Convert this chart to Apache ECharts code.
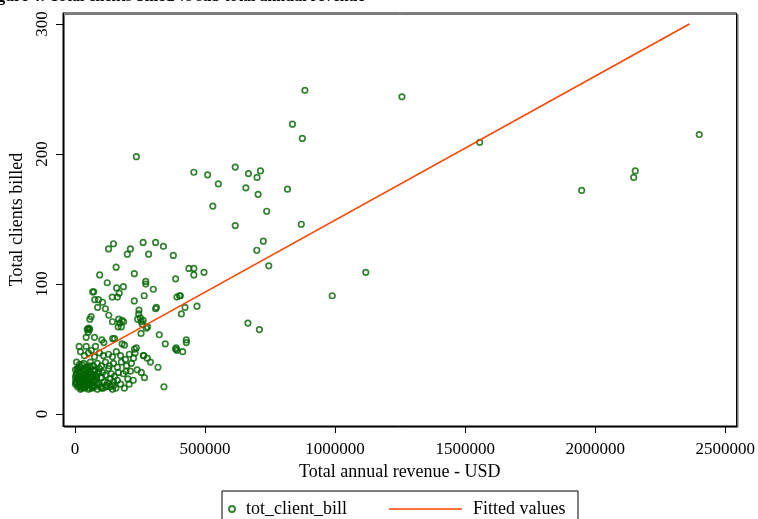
<!DOCTYPE html>
<html>
<head>
<meta charset="utf-8">
<script src="https://cdn.jsdelivr.net/npm/echarts@6/dist/echarts.min.js"></script>
<style>
html,body{margin:0;padding:0;background:#fff;}
#main{width:758px;height:519px;}
</style>
</head>
<body>
<div id="main"></div>
<script>
// revenue (USD) and clients billed
var revenue = [
  236000,884000,1257000,836000,874000,1556000,2400000,1948000,2154000,2148000,
  457000,510000,616000,667000,713000,700000,551000,657000,704000,817000,
  530000,737000,616000,870000,724000,699000,745000,1118000,438000,457000,
  457000,496000,989000,405000,423000,469000,409000,665000,709000,428000,
  392000,402000,
  129000,148000,213000,201000,262000,310000,340000,283000,378000,158000,
  95000,228000,124000,387000,272000,272000,186000,160000,301000,68000,
  72000,143000,170000,163000,266000,76000,90000,228000,106000,87000,
  117000,310000,246000,62000,57000,130000,245000,251000,168000,181000,
  144000,262000,255000,172000,178000,166000,279000,274000,47000,54000,
  254000,324000,75000,43000,145000,152000,103000,111000,181000,190000,
  229000,347000,389000,392000,387000,428000,414000,264000,16000,43000,
  63000,79000,319000,342000,239000,255000,267000,203000,208000,196000,
  187000,241000,259000,51000,51000,56000,236000,231000,263000,122000,
  157000,313000,
  21000,36000,52000,75000,94000,109000,129000,144000,159000,175000,
  194000,209000,225000,278000,290000,
  6000,17000,33000,44000,59000,71000,86000,102000,117000,132000,
  148000,163000,178000,198000,217000,167000,
  2000,6000,13000,21000,29000,36000,44000,52000,59000,67000,
  79000,86000,94000,106000,117000,129000,140000,152000,186000,213000,
  2000,3000,10000,17000,25000,33000,40000,48000,56000,63000,
  71000,82000,90000,102000,113000,125000,136000,148000,163000,175000,224000,
  2000,10000,17000,25000,33000,40000,48000,56000,67000,75000,
  86000,98000,109000,121000,136000,148000,
  21000,36000,52000,67000,86000,102000,144000,190000,
  4000,8000,12000,15000,19000,23000,27000,31000,35000,38000,
  42000,46000,50000,54000,58000,62000,66000,70000,74000,78000,
  5000,9000,14000,18000,22000,26000,30000,34000,39000,43000,
  47000,53000,57000,61000,65000,69000,73000,80000,84000,92000
];
var clients = [
  198,249,244,223,212,209,215,172,187,182,
  186,184,190,185,187,182,177,174,169,173,
  160,156,145,146,133,126,114,109,112,112,
  107,109,91,91,82,83,77,70,65,57,
  90,91,
  127,131,127,123,132,132,129,123,122,113,
  107,108,101,104,102,100,98,97,96,94,
  94,90,93,90,91,88,88,87,86,82,
  81,81,80,75,73,76,77,74,73,72,
  71,72,71,70,67,67,67,66,65,66,
  62,61,59,59,58,58,57,55,54,53,
  50,54,51,49,50,55,48,45,52,52,
  49,52,36,21,34,32,28,27,23,33,
  71,73,69,66,63,65,51,47,45,21,
  20,82,
  48,45,47,44,47,45,46,44,48,45,
  42,46,43,43,40,
  40,38,39,36,40,37,39,37,40,37,
  39,36,40,37,39,32,
  34,31,35,32,29,34,31,35,31,29,
  34,31,35,32,30,35,31,29,31,33,
  28,25,28,24,27,25,28,26,24,28,
  25,27,24,28,25,24,27,25,26,23,26,
  23,21,22,20,23,21,22,20,22,21,
  23,21,20,22,21,22,
  19,20,19,20,19,20,19,20,
  30,26,33,22,36,29,24,31,27,22,
  34,26,30,23,37,28,21,33,26,30,
  24,35,27,32,21,38,26,30,23,29,
  36,24,32,27,22,30,34,25,29,32
];
// fitted line end points
var fitX = [40000, 2362000];
var fitY = [42.8, 300];
var xTicks = [0, 500000, 1000000, 1500000, 2000000, 2500000];
var yTicks = [0, 100, 200, 300];

var points = revenue.map(function (v, i) { return [v, clients[i]]; });
var fitted = fitX.map(function (v, i) { return [v, fitY[i]]; });

var serif = '"Liberation Serif", "DejaVu Serif", serif';
var green = '#006400';
var orange = '#ff4500';

var myChart = echarts.init(document.getElementById('main'));
var option = {
  animation: false,
  backgroundColor: '#fff',
  title: {
    text: 'Figure 4: Total clients billed vs sub total annual revenue',
    left: -22,
    top: -16.5,
    textStyle: { fontFamily: serif, fontSize: 16, fontWeight: 'bold', color: '#000' }
  },
  grid: {
    left: 63, right: 21, top: 13, bottom: 93,
    show: true,
    backgroundColor: '#fff',
    borderColor: '#000',
    borderWidth: 1,
    shadowColor: '#777',
    shadowOffsetX: 1.5,
    shadowOffsetY: 1.5,
    shadowBlur: 0
  },
  legend: [
    {
      data: ['tot_client_bill'],
      left: 223, top: 495,
      itemWidth: 18, itemHeight: 6,
      textStyle: { fontFamily: serif, fontSize: 18, color: '#000' }
    },
    {
      data: [{ name: 'Fitted values', icon: 'rect' }],
      left: 384, top: 495,
      itemWidth: 73, itemHeight: 1.6,
      textStyle: { fontFamily: serif, fontSize: 18, color: '#000', padding: [0, 0, 0, 6] }
    }
  ],
  graphic: [
    {
      type: 'rect',
      shape: { x: 222, y: 491, width: 356, height: 40 },
      style: { fill: 'none', stroke: '#000', lineWidth: 1 },
      z: -1
    }
  ],
  xAxis: {
    type: 'value',
    min: -46100,
    max: 2543400,
    name: 'Total annual revenue - USD',
    nameLocation: 'middle',
    nameGap: 33,
    nameTextStyle: { fontFamily: serif, fontSize: 18, color: '#000' },
    axisLine: { show: true, onZero: false, lineStyle: { color: '#000', width: 1 } },
    axisTick: { show: true, length: 7, customValues: xTicks, lineStyle: { color: '#000' } },
    axisLabel: {
      customValues: xTicks, margin: 15, fontFamily: serif, fontSize: 17, color: '#000',
      formatter: function (v) { return String(v); }
    },
    splitLine: { show: false }
  },
  yAxis: {
    type: 'value',
    min: -9.2,
    max: 308.5,
    name: 'Total clients billed',
    nameLocation: 'middle',
    nameGap: 34,
    nameTextStyle: { fontFamily: serif, fontSize: 18, color: '#000' },
    axisLine: { show: true, onZero: false, lineStyle: { color: '#000', width: 1 } },
    axisTick: { show: true, length: 7, customValues: yTicks, lineStyle: { color: '#000' } },
    axisLabel: { customValues: yTicks, rotate: 90, margin: 12, fontFamily: serif, fontSize: 17, color: '#000' },
    splitLine: { show: false }
  },
  series: [
    {
      name: 'tot_client_bill',
      type: 'scatter',
      symbol: 'circle',
      symbolSize: 5.5,
      itemStyle: { color: 'transparent', borderColor: green, borderWidth: 1.7 },
      data: points
    },
    {
      name: 'Fitted values',
      type: 'line',
      showSymbol: false,
      symbol: 'none',
      lineStyle: { color: orange, width: 1.6 },
      itemStyle: { color: orange },
      z: 5,
      data: fitted
    }
  ]
};
myChart.setOption(option);
</script>
</body>
</html>
